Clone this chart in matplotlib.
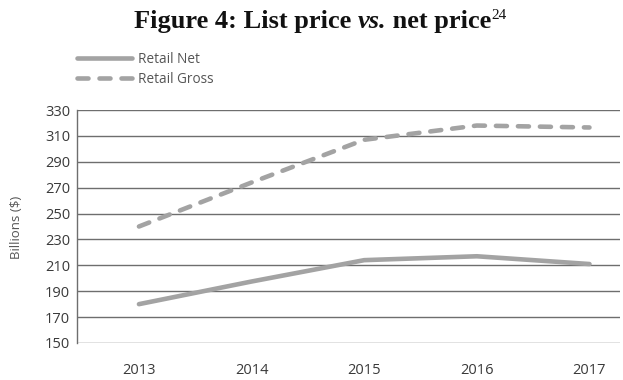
import matplotlib
matplotlib.use("Agg")
import matplotlib.pyplot as plt

years = [2013, 2014, 2015, 2016, 2017]
retail_net = [180, 197.5, 214, 217, 211]
retail_gross = [240, 274, 307, 318, 316.5]
y_ticks = [150, 170, 190, 210, 230, 250, 270, 290, 310, 330]

line_color = "#a3a3a3"
grid_color = "#6e6e6e"
text_color = "#3a3a3a"
sans = ["Open Sans", "DejaVu Sans"]

fig = plt.figure(figsize=(6.23, 3.80), dpi=100)
ax = fig.add_axes([0.1236, 0.0974, 0.8714, 0.6131])

ax.plot(years, retail_net, color=line_color, lw=3.3, solid_capstyle="round",
        solid_joinstyle="round", label="Retail Net")
ax.plot(years, retail_gross, color=line_color, lw=3.3, linestyle=(0, (2.4, 2.4)),
        dash_capstyle="round", dash_joinstyle="round", label="Retail Gross")

ax.set_xlim(2012.45, 2017.27)
ax.set_ylim(150, 330)
ax.set_yticks(y_ticks)
ax.set_xticks(years)
ax.set_xticklabels([str(y) for y in years])
for lab in ax.get_xticklabels() + ax.get_yticklabels():
    lab.set_fontfamily(sans)
    lab.set_fontsize(10.5)
    lab.set_color(text_color)
ax.tick_params(axis="both", length=0)
ax.tick_params(axis="x", pad=14.3)
ax.tick_params(axis="y", pad=5)
ax.grid(axis="y", color=grid_color, lw=1.0)
ax.set_axisbelow(True)
for side in ["top", "right", "bottom"]:
    ax.spines[side].set_visible(False)
ax.spines["left"].set_color(grid_color)
ax.spines["left"].set_linewidth(1.0)

fig.text(17 / 623, 1 - 227 / 380, "Billions ($)", rotation=90, ha="center", va="center",
         fontsize=9.5, color="#555555", family=sans)

leg = fig.legend(loc="upper left", bbox_to_anchor=(65 / 623, 1 - 40 / 380),
                 frameon=False, handlelength=4.0, handletextpad=0.5,
                 labelspacing=0.35, prop={"family": sans, "size": 9.8})
for t in leg.get_texts():
    t.set_color("#555555")

# Title assembled from runs so that "vs." is italic and "24" is a superscript
serif = "Liberation Serif"
base_y = 1 - 28 / 380
t1 = fig.text(0.0, base_y, "Figure 4: List price ", fontsize=19, fontweight="bold",
              family=serif, color="#111111", va="baseline")
t2 = fig.text(0.0, base_y, "vs.", fontsize=19, fontweight="bold", style="italic",
              family=serif, color="#111111", va="baseline")
t3 = fig.text(0.0, base_y, " net price", fontsize=19, fontweight="bold",
              family=serif, color="#111111", va="baseline")
t4 = fig.text(0.0, 1 - 19 / 380, "24", fontsize=11, family=serif,
              color="#111111", va="baseline")

fig.canvas.draw()
r = fig.canvas.get_renderer()
parts = [t1, t2, t3, t4]
widths = [p.get_window_extent(r).width for p in parts]
x = 134
for p, w in zip(parts, widths):
    p.set_x(x / 623)
    x += w

fig.savefig("out.png", dpi=100)
